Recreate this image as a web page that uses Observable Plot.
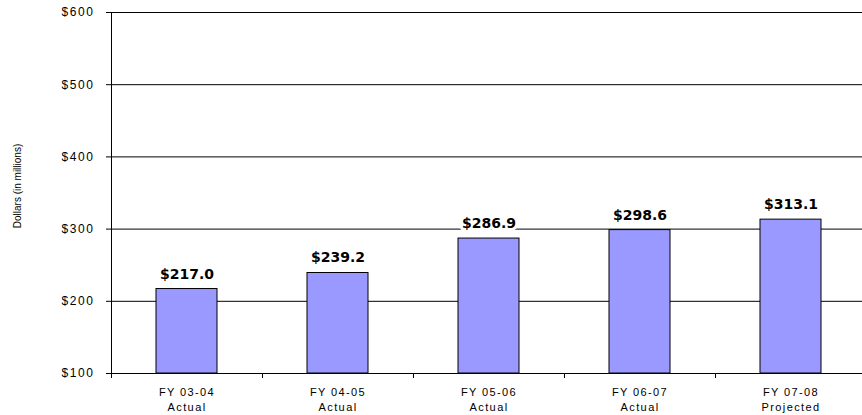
<!DOCTYPE html>
<html>
<head>
<meta charset="utf-8">
<script src="https://cdn.jsdelivr.net/npm/d3@7"></script>
<script src="https://cdn.jsdelivr.net/npm/@observablehq/plot@0.6"></script>
<style>
  html, body { margin: 0; padding: 0; background: #fff; overflow: hidden; }
  g[aria-label="y-axis tick label"] { font-family: "Liberation Sans", Arial, sans-serif; letter-spacing: 1.6px; }
  g[aria-label="x-axis tick label"] { font-family: "Liberation Sans", Arial, sans-serif; letter-spacing: 1.4px; }
</style>
</head>
<body>
<div id="chart"></div>
<script>
const fiscalYears = ["FY 03-04", "FY 04-05", "FY 05-06", "FY 06-07", "FY 07-08"];
const statuses = ["Actual", "Actual", "Actual", "Actual", "Projected"];
const values = [217.0, 239.2, 286.9, 298.6, 313.1];
const yTicks = [100, 200, 300, 400, 500, 600];
const yLabel = "Dollars (in millions)";

const data = fiscalYears.map((fy, i) => ({fy, status: statuses[i], value: values[i]}));
const statusOf = Object.fromEntries(data.map(d => [d.fy, d.status]));

const chart = Plot.plot({
  width: 862,
  height: 415,
  marginTop: 12,
  marginBottom: 42,
  marginLeft: 111,
  marginRight: 0,
  style: {fontFamily: "Liberation Sans, Arial, sans-serif", background: "#fff", color: "#000"},
  x: {domain: fiscalYears, range: [111, 866], paddingInner: 0.596, paddingOuter: 0.298, align: 0.5},
  y: {domain: [yTicks[0], yTicks[yTicks.length - 1]]},
  marks: [
    Plot.ruleY(yTicks, {stroke: "#000", strokeWidth: 1}),
    Plot.frame({anchor: "left", stroke: "#000"}),
    Plot.barY(data, {x: "fy", y1: yTicks[0], y2: "value", fill: "#9999ff", stroke: "#000", strokeWidth: 1}),
    Plot.text(data, {
      x: "fy", y: "value", text: d => "$" + d.value.toFixed(1), dy: -15,
      fontFamily: "DejaVu Sans", fontWeight: "bold", fontSize: 14,
      fill: "#000", stroke: "#fff", strokeWidth: 6
    }),
    Plot.axisY({ticks: yTicks, tickSize: 5, tickPadding: 12, tickFormat: d => "$" + d, fontSize: 12, fill: "#000", label: null}),
    Plot.axisX({tickSize: 5, tickFormat: () => "", dx: -75.5, label: null}),
    Plot.axisX({tickSize: 0, tickPadding: 12, tickFormat: d => d + "\n" + statusOf[d], fontSize: 11, lineHeight: 1.35, fill: "#000", label: null}),
    Plot.text([yLabel], {frameAnchor: "left", textAnchor: "middle", rotate: -90, dx: -94, dy: -7, fontSize: 10, fill: "#000"})
  ]
});
document.getElementById("chart").appendChild(chart);
</script>
</body>
</html>
